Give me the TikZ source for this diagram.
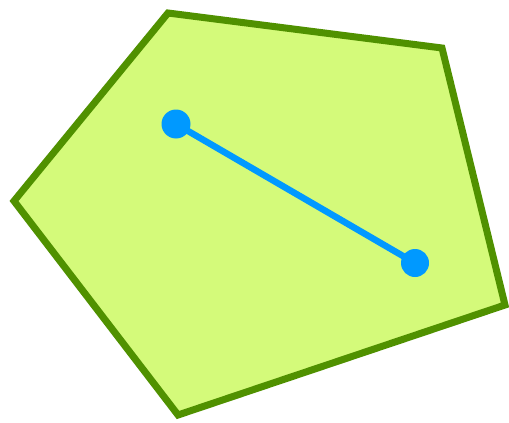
\documentclass[tikz,border=0pt]{standalone}
\usetikzlibrary{calc}
\definecolor{polyFill}{RGB}{212,250,122}
\definecolor{polyEdge}{RGB}{80,145,0}
\definecolor{segBlue}{RGB}{0,153,255}
\tikzset{
    polygon/.style={draw=polyEdge, fill=polyFill, line width=7pt, line join=miter},
    segment/.style={draw=segBlue, line width=6.5pt},
    endpoint/.style={circle, fill=segBlue, inner sep=0pt, minimum size=29pt}
}
\begin{document}
\begin{tikzpicture}[x=1pt,y=-1pt]
    \useasboundingbox (0,0) rectangle (509,423);
    % pentagon corners
    \coordinate (p1) at (168,13);
    \coordinate (p2) at (442,48);
    \coordinate (p3) at (505,305);
    \coordinate (p4) at (178,415);
    \coordinate (p5) at (14,201);
    \draw[polygon] (p1) -- (p2) -- (p3) -- (p4) -- (p5) -- cycle;

    % segment inside
    \node[endpoint] (a) at (176,124) {};
    \node[endpoint, minimum size=28pt] (b) at (415,263) {};
    \draw[segment] (a.center) -- (b.center);
\end{tikzpicture}
\end{document}
